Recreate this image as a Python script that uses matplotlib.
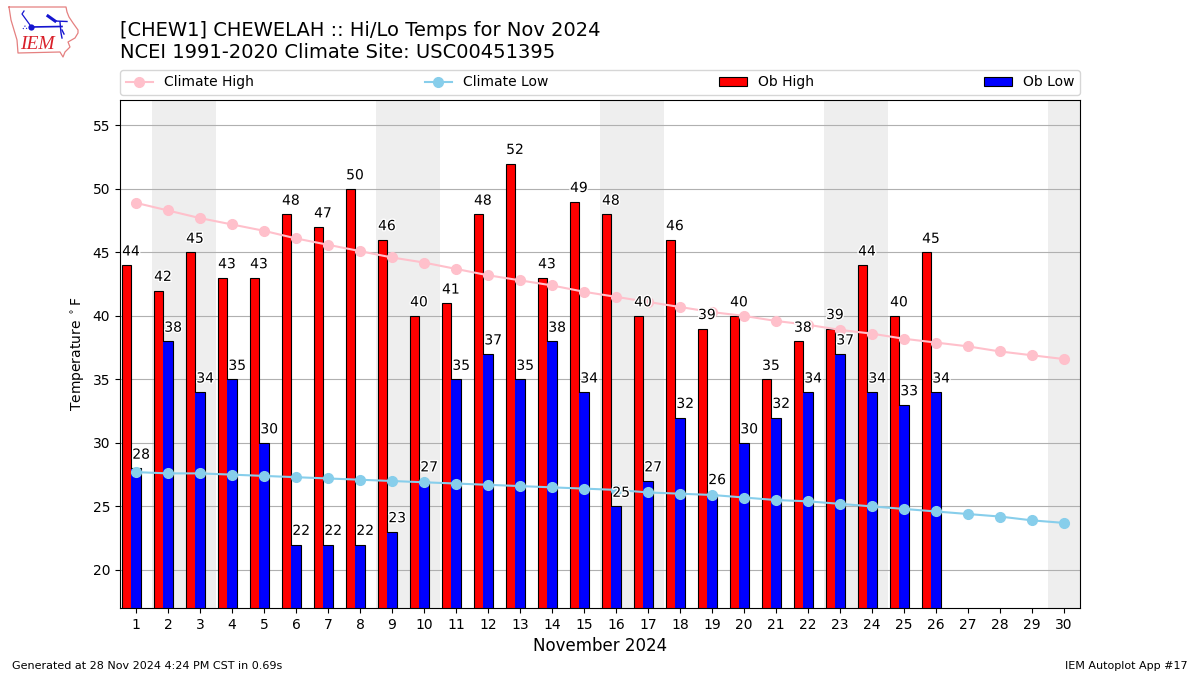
import matplotlib
matplotlib.use("Agg")
import matplotlib.pyplot as plt
import matplotlib.patheffects as pe
import numpy as np

days = list(range(1, 31))
climate_high = [48.9, 48.3, 47.7, 47.2, 46.7, 46.1, 45.6, 45.1, 44.6, 44.2, 43.7, 43.2, 42.8, 42.4, 41.9,
                41.5, 41.1, 40.7, 40.3, 40.0, 39.6, 39.3, 38.9, 38.6, 38.2, 37.9, 37.6, 37.2, 36.9, 36.6]
climate_low = [27.7, 27.6, 27.6, 27.5, 27.4, 27.3, 27.2, 27.1, 27.0, 26.9, 26.8, 26.7, 26.6, 26.5, 26.4,
               26.3, 26.1, 26.0, 25.9, 25.7, 25.5, 25.4, 25.2, 25.0, 24.8, 24.6, 24.4, 24.2, 23.9, 23.7]
ob_days = list(range(1, 27))
ob_high = [44, 42, 45, 43, 43, 48, 47, 50, 46, 40, 41, 48, 52, 43, 49, 48, 40, 46, 39, 40, 35, 38, 39, 44, 40, 45]
ob_low = [28, 38, 34, 35, 30, 22, 22, 22, 23, 27, 35, 37, 35, 38, 34, 25, 27, 32, 26, 30, 32, 34, 37, 34, 33, 34]
weekend_spans = [(1.5, 3.5), (8.5, 10.5), (15.5, 17.5), (22.5, 24.5), (29.5, 30.5)]

W, H = 1200, 675
fig = plt.figure(figsize=(12, 6.75), dpi=100)
ax = fig.add_axes([120 / W, 1 - 608 / H, 960 / W, 508 / H])

for a, b in weekend_spans:
    ax.axvspan(a, b, color="#eeeeee", lw=0, zorder=0)
ax.yaxis.grid(True, color="#b0b0b0", lw=0.8, zorder=1)
ax.set_axisbelow(True)

od = np.array(ob_days)
h1 = ax.bar(od - 0.3, ob_high, width=0.3, color="red", edgecolor="black", lw=0.8, zorder=2, label="Ob High")
h2 = ax.bar(od, ob_low, width=0.3, color="blue", edgecolor="black", lw=0.8, zorder=2, label="Ob Low")
# the reference shows no dark seam where the red and blue bars touch
seam = 0.022
low_under = np.array(ob_low) - 0.08
ax.bar(od - 0.15 - seam / 2, low_under, width=seam, color="red", lw=0, zorder=2.1)
ax.bar(od - 0.15 + seam / 2, low_under, width=seam, color="blue", lw=0, zorder=2.1)
l1, = ax.plot(days, climate_high, color="pink", marker="o", ms=7, lw=1.5, zorder=3, label="Climate High")
l2, = ax.plot(days, climate_low, color="skyblue", marker="o", ms=7, lw=1.5, zorder=3, label="Climate Low")

stroke = [pe.withStroke(linewidth=2, foreground="white")]
for d, v in zip(ob_days, ob_high):
    ax.text(d - 0.16, v + 0.52, str(v), ha="center", va="bottom", fontsize=10, zorder=5, path_effects=stroke)
for d, v in zip(ob_days, ob_low):
    ax.text(d + 0.16, v + 0.52, str(v), ha="center", va="bottom", fontsize=10, zorder=5, path_effects=stroke)

ax.set_xlim(0.5, 30.5)
ax.set_ylim(17, 57)
ax.set_xticks(days)
ax.set_yticks(range(20, 60, 5))
ax.tick_params(labelsize=10)
ax.set_xlabel("November 2024", fontsize=12)
ax.set_ylabel(r"Temperature $^\circ$F", fontsize=10)

ax.legend(handles=[l1, l2, h1, h2], ncol=4, mode="expand", loc="lower left",
          bbox_to_anchor=(0, 1.01, 1, 0.05), borderaxespad=0, fontsize=10, framealpha=0.8)

fig.text(120 / W, 1 - 62 / H, "[CHEW1] CHEWELAH :: Hi/Lo Temps for Nov 2024\nNCEI 1991-2020 Climate Site: USC00451395",
         fontsize=14, ha="left", va="bottom", linespacing=1.2)
fig.text(12 / W, 1 - 671 / H, "Generated at 28 Nov 2024 4:24 PM CST in 0.69s", fontsize=8, ha="left", va="bottom")
fig.text(1188 / W, 1 - 671 / H, "IEM Autoplot App #17", fontsize=8, ha="right", va="bottom")

# IEM logo (Iowa outline, station glyph, lettering) in figure pixel coordinates
lg = fig.add_axes([0, 0, 1, 1], facecolor="none", zorder=10)
lg.set_xlim(0, W)
lg.set_ylim(H, 0)
lg.axis("off")
ox = [9, 66, 67, 69, 73, 78, 78, 75, 68, 70, 65, 63, 60, 18, 17, 14, 11, 9]
oy = [7, 7, 12, 17, 23, 30, 33, 38, 42, 47, 52, 57, 52, 53, 40, 30, 20, 7]
lg.plot(ox, oy, color="#e58080", lw=0.9)
blue = "#1515d0"
lg.plot([31, 62], [27, 26.5], color=blue, lw=1.2)
lg.plot([31], [27], "o", color=blue, ms=4.5, mew=0)
lg.plot([24, 22, 30], [11, 14, 25], color=blue, lw=0.9)
lg.plot([48, 55], [16, 21], color=blue, lw=2.2)
lg.plot([55, 67], [21, 21.5], color=blue, lw=1)
lg.plot([60, 61, 62], [22, 33, 38], color=blue, lw=1)
lg.plot([62, 64], [30, 34], color=blue, lw=1)
lg.plot([23, 25, 27], [29, 26, 29], color=blue, lw=0.8, ls=":")
lg.text(37.5, 44.5, "IEM", color="#d9202a", fontsize=14, family="Liberation Serif", style="italic",
        ha="center", va="center")

fig.savefig("out.png", dpi=100)
